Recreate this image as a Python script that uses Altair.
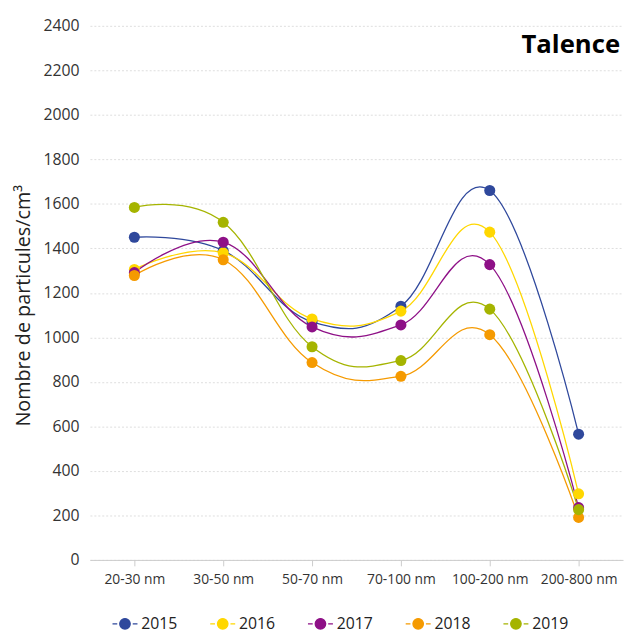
import altair as alt
import pandas as pd

categories = ["20-30 nm", "30-50 nm", "50-70 nm", "70-100 nm", "100-200 nm", "200-800 nm"]
years = ["2015", "2016", "2017", "2018", "2019"]
v2015 = [1450, 1390, 1070, 1140, 1660, 565]
v2016 = [1305, 1380, 1083, 1118, 1473, 297]
v2017 = [1291, 1428, 1047, 1056, 1327, 235]
v2018 = [1278, 1349, 887, 825, 1012, 191]
v2019 = [1584, 1517, 958, 896, 1127, 226]
colors = ["#2f489c", "#ffd700", "#8e1087", "#f59a00", "#a5b400"]

series = [v2015, v2016, v2017, v2018, v2019]
rows = []
for y, vals in zip(years, series):
    for c, v in zip(categories, vals):
        rows.append({"cat": c, "year": y, "value": v})
df = pd.DataFrame(rows)

FONT = "Open Sans"
legend_path = "M-1,0L-0.62,0M0.62,0L1,0M0.42,0A0.42,0.42,0,1,1,-0.42,0A0.42,0.42,0,1,1,0.42,0Z"

x = alt.X("cat:N", sort=categories, title=None,
          axis=alt.Axis(labelAngle=0, labelFont=FONT, labelFontSize=14, labelColor="#333",
                        domainColor="#ccc", tickColor="#ccc", tickSize=6, labelPadding=7,
                        grid=False))
y = alt.Y("value:Q", title="Nombre de particules/cm³",
          scale=alt.Scale(domain=[0, 2400], nice=False),
          axis=alt.Axis(values=list(range(0, 2401, 200)), format="d", labelFont=FONT,
                        labelFontSize=16, labelColor="#333", titleFont=FONT, titleFontSize=20,
                        titleFontWeight="normal", titleColor="#222", domain=False, ticks=False,
                        labelPadding=11, titlePadding=10, titleY=283,
                        gridColor="#dddddd", gridDash=[2, 2], gridWidth=1))
color = alt.Color("year:N", sort=years, scale=alt.Scale(domain=years, range=colors),
                  legend=alt.Legend(orient="none", legendX=22, legendY=592,
                                    title=None, direction="horizontal",
                                    symbolType=legend_path, symbolSize=640, symbolStrokeWidth=1.3,
                                    labelFont=FONT, labelFontSize=16, labelColor="#222",
                                    columnPadding=30, labelOffset=3))

base = alt.Chart(df)
lines = base.mark_line(interpolate="cardinal", tension=-0.2, strokeWidth=1.3).encode(
    x=x, y=y, color=color)
points = base.mark_point(filled=True, size=125, opacity=1).encode(x=x, y=y, color=color)
title = alt.Chart(pd.DataFrame({"t": ["Talence"]})).mark_text(
    align="right", baseline="middle", font=FONT, fontSize=26, fontWeight="bold", color="#000"
).encode(text="t:N", x=alt.value(537), y=alt.value(20))

chart = alt.layer(lines, points, title).properties(
    width=540, height=541,
    autosize=alt.AutoSizeParams(type="none"),
    padding={"left": 83, "top": 14, "right": 2, "bottom": 74},
).configure_view(stroke=None)

chart.save("out.html", embed_options={"renderer": "svg", "actions": False})
